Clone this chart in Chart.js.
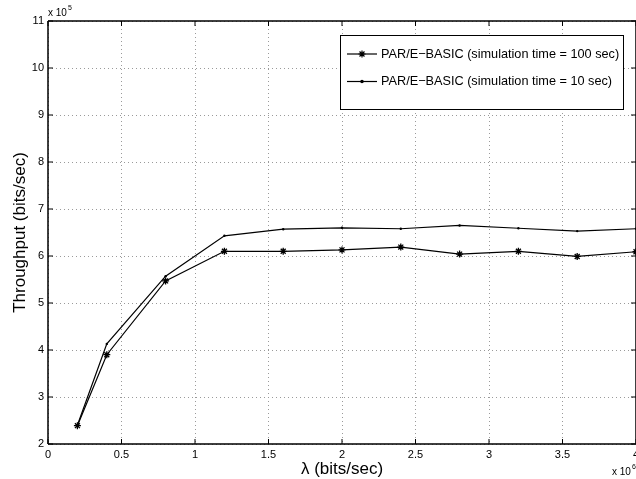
<!DOCTYPE html>
<html>
<head>
<meta charset="utf-8">
<script src="https://cdn.jsdelivr.net/npm/chart.js@4/dist/chart.umd.min.js"></script>
<style>
  html, body { margin: 0; padding: 0; background: #fff; }
  #wrap { width: 636px; height: 479px; }
</style>
</head>
<body>
<div id="wrap"><canvas id="chart" width="636" height="479"></canvas></div>
<script>
// lambda in units of 10^6 bits/sec, throughput in units of 10^5 bits/sec
const lambdaValues  = [0.2, 0.4, 0.8, 1.2, 1.6, 2.0, 2.4, 2.8, 3.2, 3.6, 4.0];
const throughput100 = [2.39, 3.90, 5.47, 6.10, 6.10, 6.13, 6.19, 6.04, 6.10, 5.99, 6.09];
const throughput10  = [2.40, 4.13, 5.57, 6.43, 6.57, 6.60, 6.58, 6.65, 6.59, 6.53, 6.58];
const seriesLabels  = [
  'PAR/E\u2212BASIC (simulation time = 100 sec)',
  'PAR/E\u2212BASIC (simulation time = 10 sec)',
];
const xTicks = [0, 0.5, 1, 1.5, 2, 2.5, 3, 3.5, 4];
const yTicks = [2, 3, 4, 5, 6, 7, 8, 9, 10, 11];

const FONT = '"Liberation Sans", Arial, Helvetica, sans-serif';

const toPoints = ys => lambdaValues.map((x, i) => ({ x, y: ys[i] }));

// MATLAB-ish frame, inward ticks, exponent labels, axis titles, legend box
const matlabDecor = {
  id: 'matlabDecor',
  afterDraw(chart) {
    const { ctx, chartArea: a, scales } = chart;
    const sx = scales.x, sy = scales.y;
    ctx.save();

    // frame
    ctx.strokeStyle = '#000';
    ctx.lineWidth = 1.5;
    ctx.beginPath();
    ctx.moveTo(a.left, a.top); ctx.lineTo(a.right, a.top);
    ctx.moveTo(a.left, a.top); ctx.lineTo(a.left, a.bottom);
    ctx.moveTo(a.left, a.bottom); ctx.lineTo(a.right, a.bottom);
    ctx.moveTo(a.right, a.top); ctx.lineTo(a.right, a.bottom);
    ctx.stroke();

    // inward ticks
    ctx.lineWidth = 1;
    ctx.beginPath();
    xTicks.forEach(v => {
      const px = sx.getPixelForValue(v);
      ctx.moveTo(px, a.bottom); ctx.lineTo(px, a.bottom - 5);
      ctx.moveTo(px, a.top); ctx.lineTo(px, a.top + 5);
    });
    yTicks.forEach(v => {
      const py = sy.getPixelForValue(v);
      ctx.moveTo(a.left, py); ctx.lineTo(a.left + 5, py);
      ctx.moveTo(a.right, py); ctx.lineTo(a.right - 5, py);
    });
    ctx.stroke();

    // exponent labels
    ctx.fillStyle = '#000';
    ctx.textBaseline = 'middle';
    ctx.textAlign = 'left';
    ctx.font = '10px ' + FONT;
    ctx.fillText('x 10', a.left, 13);
    ctx.font = '7px ' + FONT;
    ctx.fillText('5', a.left + 20, 8);
    ctx.font = '10px ' + FONT;
    ctx.fillText('x 10', 612, 472);
    ctx.font = '7px ' + FONT;
    ctx.fillText('6', 632, 467);

    // axis titles
    ctx.font = '17px ' + FONT;
    ctx.textAlign = 'center';
    ctx.fillText('\u03bb (bits/sec)', (a.left + a.right) / 2, 469);
    ctx.save();
    ctx.translate(20, (a.top + a.bottom) / 2);
    ctx.rotate(-Math.PI / 2);
    ctx.fillText('Throughput (bits/sec)', 0, 0);
    ctx.restore();

    // legend
    const box = { x: 340, y: 35, w: 283, h: 74 };
    ctx.fillStyle = '#fff';
    ctx.fillRect(box.x, box.y, box.w, box.h);
    ctx.strokeStyle = '#000';
    ctx.lineWidth = 1;
    ctx.strokeRect(box.x + 0.5, box.y + 0.5, box.w, box.h);
    const rows = [54, 81.5];
    chart.data.datasets.forEach((ds, i) => {
      const y = rows[i];
      ctx.strokeStyle = '#000';
      ctx.lineWidth = 1.2;
      ctx.beginPath();
      ctx.moveTo(347, y); ctx.lineTo(377, y);
      ctx.stroke();
      Chart.helpers.drawPoint(ctx, {
        pointStyle: ds.pointStyle,
        radius: ds.pointRadius,
        borderWidth: ds.borderWidth,
      }, 362, y);
      if (ds.pointStyle === 'circle') ctx.fill();
      ctx.fillStyle = '#000';
      ctx.font = '12.7px ' + FONT;
      ctx.textAlign = 'left';
      ctx.fillText(ds.label, 381, y);
    });

    ctx.restore();
  }
};

new Chart(document.getElementById('chart'), {
  type: 'line',
  data: {
    datasets: [
      {
        label: seriesLabels[0],
        data: toPoints(throughput100),
        borderColor: '#000',
        backgroundColor: '#000',
        borderWidth: 1.2,
        pointStyle: 'star',
        pointRadius: 3.5,
        pointBorderWidth: 1.3,
        pointBorderColor: '#000',
        tension: 0,
        fill: false,
      },
      {
        label: seriesLabels[1],
        data: toPoints(throughput10),
        borderColor: '#000',
        backgroundColor: '#000',
        borderWidth: 1.2,
        pointStyle: 'circle',
        pointRadius: 1.2,
        pointBorderWidth: 0,
        tension: 0,
        fill: false,
      },
    ],
  },
  options: {
    responsive: false,
    animation: false,
    layout: { autoPadding: false, padding: { top: 21, right: 0, left: 0, bottom: 0 } },
    plugins: {
      legend: { display: false },
      tooltip: { enabled: false },
    },
    scales: {
      x: {
        type: 'linear',
        min: 0,
        max: 4,
        afterBuildTicks: s => { s.ticks = xTicks.map(v => ({ value: v })); },
        afterFit: s => { s.height = 35; s.paddingLeft = 0; s.paddingRight = 0; },
        ticks: {
          color: '#000',
          font: { family: FONT, size: 11 },
          padding: 4,
          maxRotation: 0,
          autoSkip: false,
          callback: v => String(v),
        },
        grid: { color: '#9a9a9a', lineWidth: 1, drawTicks: false },
        border: { display: false, dash: [1, 3] },
      },
      y: {
        type: 'linear',
        min: 2,
        max: 11,
        afterBuildTicks: s => { s.ticks = yTicks.map(v => ({ value: v })); },
        afterFit: s => { s.width = 48; s.paddingTop = 0; s.paddingBottom = 0; },
        ticks: {
          color: '#000',
          font: { family: FONT, size: 11 },
          padding: 4,
          autoSkip: false,
          callback: v => String(v),
        },
        grid: { color: '#9a9a9a', lineWidth: 1, drawTicks: false },
        border: { display: false, dash: [1, 3] },
      },
    },
  },
  plugins: [matlabDecor],
});
</script>
</body>
</html>
